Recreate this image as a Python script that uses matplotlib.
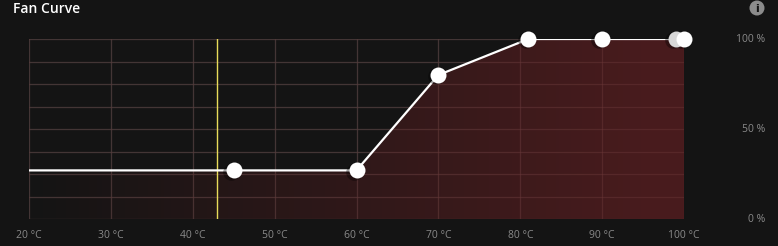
import numpy as np
import matplotlib
matplotlib.use("Agg")
import matplotlib.pyplot as plt
from matplotlib.patches import Polygon, Ellipse

# Data
temps = [45, 60, 70, 81, 90, 99, 100]
speeds = [27, 27, 80, 100, 100, 100, 100]
current_temp = 43
x_ticks = [20, 30, 40, 50, 60, 70, 80, 90, 100]
x_tick_labels = ["20 °C", "30 °C", "40 °C", "50 °C", "60 °C", "70 °C", "80 °C", "90 °C", "100 °C"]
y_ticks = [0, 50, 100]
y_tick_labels = ["0 %", "50 %", "100 %"]
title = "Fan Curve"

BG = "#141414"
GRID = "#2f2f2f"
LABEL = "#8a8a8a"

W, H = 778, 246
fig = plt.figure(figsize=(W / 100, H / 100), dpi=100, facecolor=BG)
ax = fig.add_axes([29 / W, (H - 219) / H, (684 - 29) / W, (219 - 39) / H])
ax.set_facecolor(BG)
xmin, xmax = 20, 100
ax.set_xlim(xmin, xmax)
ax.set_ylim(0, 100)

# grid
for x in x_ticks:
    ax.axvline(x, color=GRID, lw=0.9, zorder=1)
for y in np.arange(0, 101, 12.5):
    ax.axhline(y, color=GRID, lw=0.9, zorder=1)

xs = np.concatenate([[xmin], temps])
ys = np.concatenate([[speeds[0]], speeds])

# gradient fill under the curve
poly_pts = np.column_stack([np.concatenate([[xmin], xs, [xs[-1]]]),
                            np.concatenate([[0], ys, [0]])])
poly = Polygon(poly_pts, closed=True, facecolor="none", edgecolor="none", transform=ax.transData)
ax.add_patch(poly)
n = 256
grad = np.zeros((2, n, 4))
base = np.array([0.30, 0.11, 0.12])
t = np.linspace(0, 1, n)
grad[:, :, 0] = base[0]
grad[:, :, 1] = base[1]
grad[:, :, 2] = base[2]
grad[:, :, 3] = np.clip(t * 1.05, 0, 1) * 0.95
im = ax.imshow(grad, extent=[xmin, xs[-1], 0, 100], aspect="auto", origin="lower",
               interpolation="bilinear", zorder=2)
im.set_clip_path(poly)

# grid over fill (reddish lines)
for x in x_ticks:
    ax.axvline(x, color=(0.5, 0.28, 0.28, 0.25), lw=0.9, zorder=2.5)
for y in np.arange(0, 101, 12.5):
    ax.axhline(y, color=(0.5, 0.28, 0.28, 0.25), lw=0.9, zorder=2.5)

# current temperature line
ax.axvline(current_temp, color="#e8dc5a", lw=1.0, zorder=3)

# curve
ax.plot(xs, ys, color="white", lw=1.6, zorder=4, solid_capstyle="butt")
# marker shadows
ax.plot(np.array(temps) - 0.35, np.array(speeds) - 0.8, "o", ms=12, color="#000000",
        alpha=0.35, mec="none", zorder=5, clip_on=False)
for i, (tx, sy) in enumerate(zip(temps, speeds)):
    ax.plot([tx], [sy], "o", ms=11.5, color="#d8d8d8" if i == len(temps) - 2 else "white",
            mec="none", zorder=6 + i * 0.01, clip_on=False)

for s in ax.spines.values():
    s.set_visible(False)
ax.set_xticks(x_ticks)
ax.set_xticklabels(x_tick_labels)
ax.tick_params(axis="x", length=0, pad=8, colors=LABEL, labelsize=7.5)
ax.set_yticks([])
for lbl in ax.get_xticklabels():
    lbl.set_family("Open Sans")

for yv, lab in zip(y_ticks, y_tick_labels):
    fig.text(765 / W, 1 - (220 - yv * 1.805) / H, lab, ha="right", va="center",
             color=LABEL, fontsize=7.5, family="Open Sans")

fig.text(13 / W, 1 - 9 / H, title, ha="left", va="center", color="white",
         fontsize=10, fontweight="semibold", family="Open Sans")

# info icon
icx, icy = 757, 8
fig.patches.append(Ellipse((icx / W, 1 - icy / H), 15 / W, 15 / H, transform=fig.transFigure,
                           facecolor="#8c8c8c", edgecolor="none"))
fig.text(icx / W, 1 - (icy + 0.5) / H, "i", ha="center", va="center", color=BG,
         fontsize=8, fontweight="bold", family="DejaVu Sans")

fig.savefig("out.png", dpi=100, facecolor=BG)
